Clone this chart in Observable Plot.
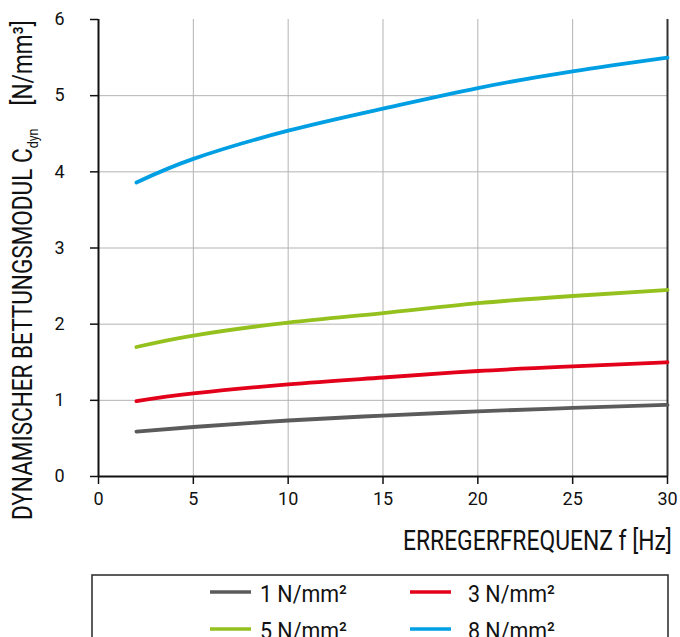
<!DOCTYPE html>
<html><head><meta charset="utf-8">
<script src="https://cdn.jsdelivr.net/npm/d3@7"></script>
<script src="https://cdn.jsdelivr.net/npm/@observablehq/plot@0.6"></script>
<style>
body{margin:0;background:#fff;font-family:Roboto,sans-serif;}
</style></head>
<body>
<div id="chart"></div>
<script>
const freq = [2, 5, 10, 15, 20, 25, 30];
const pressures = ["1 N/mm²", "3 N/mm²", "5 N/mm²", "8 N/mm²"];
const colors = ["#5b5b5b", "#e2001a", "#95c11f", "#009fe3"];
const c1 = [0.59, 0.65, 0.735, 0.80, 0.855, 0.90, 0.94];
const c3 = [0.99, 1.09, 1.21, 1.30, 1.385, 1.445, 1.50];
const c5 = [1.70, 1.85, 2.02, 2.145, 2.275, 2.37, 2.45];
const c8 = [3.86, 4.17, 4.54, 4.83, 5.10, 5.32, 5.50];
const xTicks = [0, 5, 10, 15, 20, 25, 30];
const yTicks = [0, 1, 2, 3, 4, 5, 6];
const xTitle = "ERREGERFREQUENZ f [Hz]";
const yTitleMain = "DYNAMISCHER BETTUNGSMODUL C";
const yTitleSub = "dyn";
const yTitleUnit = "[N/mm³]";

const series = [c1, c3, c5, c8];
const data = [];
series.forEach((s, i) => s.forEach((v, j) => data.push({f: freq[j], c: v, p: pressures[i]})));

const W = 680, H = 637;
const plot = Plot.plot({
  width: W, height: H,
  marginLeft: 98, marginRight: 13, marginTop: 19, marginBottom: H - 476,
  style: {fontFamily: "Roboto, sans-serif", fontSize: "18px", color: "#111", background: "#fff"},
  x: {domain: [0, 30], ticks: xTicks, label: null},
  y: {domain: [0, 6], ticks: yTicks, label: null},
  color: {domain: pressures, range: colors},
  marks: [
    Plot.gridX(xTicks.slice(1, -1), {stroke: "#b3b3b3", strokeOpacity: 1, strokeWidth: 1}),
    Plot.gridY(yTicks.slice(1, -1), {stroke: "#b3b3b3", strokeOpacity: 1, strokeWidth: 1}),
    Plot.axisX(xTicks, {tickSize: 8, tickPadding: 8, strokeWidth: 1.5, fontSize: 18, tickFormat: d => String(d)}),
    Plot.axisY(yTicks, {tickSize: 8, tickPadding: 26, strokeWidth: 1.5, fontSize: 18, tickFormat: d => String(d)}),
    Plot.ruleY([0], {stroke: "#111", strokeWidth: 2}),
    Plot.ruleX([0], {stroke: "#111", strokeWidth: 2}),
    Plot.ruleX([30], {stroke: "#333", strokeWidth: 2}),
    Plot.line(data, {x: "f", y: "c", z: "p", stroke: "p", strokeWidth: 3.8, curve: "natural", strokeLinecap: "round"})
  ]
});
document.getElementById("chart").appendChild(plot);

const svg = d3.select(plot);
const TF = "Roboto, sans-serif";

// x axis title, condensed to the reference width
const xt = svg.append("text")
  .attr("font-family", TF).attr("font-size", 28).attr("fill", "#111")
  .attr("text-anchor", "start")
  .text(xTitle);
{
  const w = xt.node().getBBox().width;
  const target = 269, right = 672;
  const s = target / w;
  xt.attr("transform", `translate(${right - target},550) scale(${s},1)`);
}

// y axis title with subscript, rotated and condensed
const yl = svg.append("text")
  .attr("font-family", TF).attr("font-size", 27).attr("fill", "#111")
  .attr("text-anchor", "start");
yl.append("tspan").text(yTitleMain);
yl.append("tspan").attr("font-size", 15).attr("dy", 6).text(yTitleSub);
yl.append("tspan").attr("dy", -6).text("\u2003" + yTitleUnit);
{
  const w = yl.node().getBBox().width;
  const target = 500;
  const s = target / w;
  yl.attr("transform", `translate(32,520) rotate(-90) scale(${s},1)`);
}

// legend box
const lg = svg.append("g").attr("text-anchor", "start");
lg.append("rect").attr("x", 92).attr("y", 575).attr("width", 576).attr("height", 120)
  .attr("fill", "none").attr("stroke", "#333").attr("stroke-width", 1.6);
const cols = [210, 410], rows = [592, 629];
pressures.forEach((p, i) => {
  const x0 = cols[i % 2], y0 = rows[Math.floor(i / 2)];
  lg.append("line").attr("x1", x0).attr("x2", x0 + 41).attr("y1", y0).attr("y2", y0)
    .attr("stroke", colors[i]).attr("stroke-width", 3.6);
  const t = lg.append("text").attr("font-family", TF).attr("font-size", 24)
    .attr("text-anchor", "start").attr("fill", "#111").text(p);
  const w = t.node().getBBox().width;
  const tx = x0 + (i % 2 ? 58 : 50);
  t.attr("transform", `translate(${tx},${y0 + 10}) scale(${87 / w},1)`);
});
</script>
</body></html>
